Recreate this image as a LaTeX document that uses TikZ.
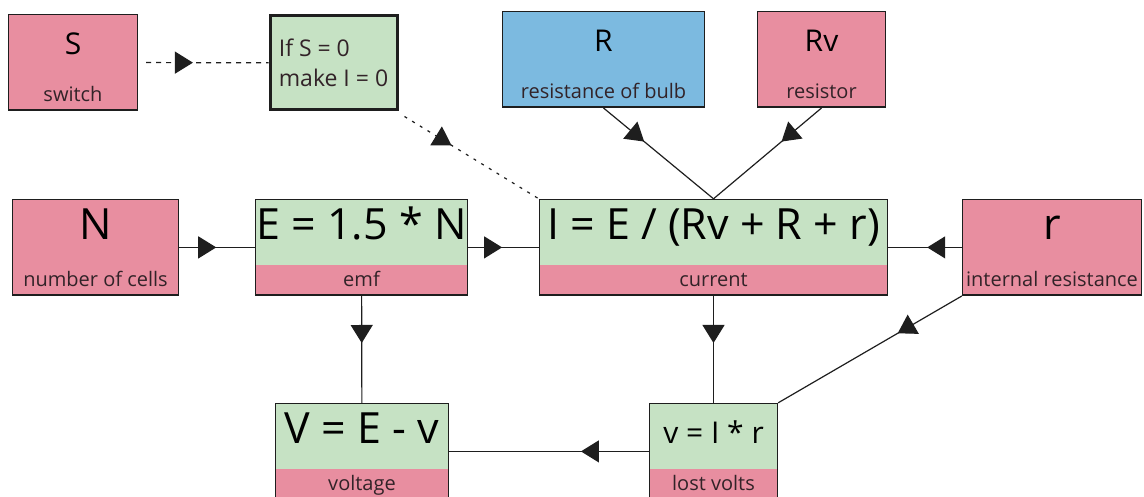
\documentclass[tikz,border=0pt]{standalone}
\usepackage{fontspec}
\setmainfont{Open Sans}
\usepackage{tikz}
\usetikzlibrary{
  arrows.meta,
  positioning,
  fit,
  decorations.markings,
}
\definecolor{inpink}{RGB}{232,142,160}
\definecolor{calcgreen}{RGB}{198,226,196}
\definecolor{bulbblue}{RGB}{124,186,224}
\definecolor{boxline}{RGB}{30,30,30}
\definecolor{labeltext}{RGB}{50,35,40}
\tikzset{
  boxframe/.style={draw=boxline, line width=0.8pt, inner sep=0pt},
  toppart/.style={minimum height=32.5pt, inner sep=0pt,
    text height=1.33ex, text depth=0pt},
  botpart/.style={minimum height=15pt, inner sep=0pt,
    font=\fontsize{10}{12}\selectfont, text=labeltext,
    text height=1.5ex, text depth=0.3ex},
  bigsym/.style={toppart, font=\fontsize{21.5}{25}\selectfont},
  smallsym/.style={toppart, font=\fontsize{15}{18}\selectfont},
  ifbox/.style={draw=boxline, line width=1.5pt, fill=calcgreen,
    align=left, minimum width=63.5pt, minimum height=47pt, inner sep=0pt,
    font=\fontsize{11.5}{15}\selectfont, text=labeltext},
  wire/.style={line width=0.6pt, draw=boxline},
  dashwire/.style={wire, dash pattern=on 2.5pt off 2.5pt},
  dotwire/.style={wire, dash pattern=on 1.5pt off 3pt},
  midarrow/.style={postaction={decorate}, decoration={markings,
    mark=at position #1 with {\arrow[solid]{Triangle[length=9pt, width=11pt]}}}},
}

\begin{document}
\begin{tikzpicture}[x=0.5pt, y=-0.5pt]
  \useasboundingbox (0,0) rectangle (1144,497);

  % ── Top row: switch and resistances ──
  \node[smallsym, fill=inpink, minimum width=64pt] (switch-top) at (73,47.5) {S};
  \node[botpart, fill=inpink, minimum width=64pt, below=-0.5pt of switch-top] (switch-cap) {switch};
  \node[boxframe, fit=(switch-top)(switch-cap)] (switch) {};

  \node[ifbox] (ifswitch) at (333.5,63) {If S = 0\\make I = 0};

  \node[smallsym, fill=bulbblue, minimum width=100.5pt] (bulb-top) at (603.5,44.5) {R};
  \node[botpart, fill=bulbblue, minimum width=100.5pt, below=-0.5pt of bulb-top] (bulb-cap) {resistance of bulb};
  \node[boxframe, fit=(bulb-top)(bulb-cap)] (bulb) {};

  \node[smallsym, fill=inpink, minimum width=63.5pt] (resistor-top) at (821.5,44.5) {Rv};
  \node[botpart, fill=inpink, minimum width=63.5pt, below=-0.5pt of resistor-top] (resistor-cap) {resistor};
  \node[boxframe, fit=(resistor-top)(resistor-cap)] (resistor) {};

  % ── Middle row ──
  \node[bigsym, fill=inpink, minimum width=82.5pt] (cells-top) at (95.5,232.5) {N};
  \node[botpart, fill=inpink, minimum width=82.5pt, below=-0.5pt of cells-top] (cells-cap) {number of cells};
  \node[boxframe, fit=(cells-top)(cells-cap)] (cells) {};

  \node[bigsym, fill=calcgreen, minimum width=105.5pt] (emf-top) at (361.5,232.5) {E = 1.5 * N};
  \node[botpart, fill=inpink, minimum width=105.5pt, below=-0.5pt of emf-top] (emf-cap) {emf};
  \node[boxframe, fit=(emf-top)(emf-cap)] (emf) {};

  \node[bigsym, fill=calcgreen, minimum width=173.5pt] (current-top) at (713.5,232.5) {I = E / (Rv + R + r)};
  \node[botpart, fill=inpink, minimum width=173.5pt, below=-0.5pt of current-top] (current-cap) {current};
  \node[boxframe, fit=(current-top)(current-cap)] (current) {};

  \node[bigsym, fill=inpink, minimum width=89pt] (intres-top) at (1052,232.5) {r};
  \node[botpart, fill=inpink, minimum width=89pt, below=-0.5pt of intres-top] (intres-cap) {internal resistance};
  \node[boxframe, fit=(intres-top)(intres-cap)] (intres) {};

  % ── Bottom row ──
  \node[bigsym, fill=calcgreen, minimum width=86pt] (voltage-top) at (362,436.5) {V = E - v};
  \node[botpart, fill=inpink, minimum width=86pt, below=-0.5pt of voltage-top] (voltage-cap) {voltage};
  \node[boxframe, fit=(voltage-top)(voltage-cap)] (voltage) {};

  \node[toppart, font=\fontsize{15}{18}\selectfont, fill=calcgreen, minimum width=63.5pt] (lost-top) at (713.5,436.5) {v = I * r};
  \node[botpart, fill=inpink, minimum width=63.5pt, below=-0.5pt of lost-top] (lost-cap) {lost volts};
  \node[boxframe, fit=(lost-top)(lost-cap)] (lost) {};

  % ── Connectors ──
  \draw[dashwire, midarrow=0.42, shorten <=4pt] (switch) -- (ifswitch);
  \draw[dotwire, midarrow=0.35] ([shift={(6,5)}]ifswitch.south east) -- (current.north west);
  \draw[wire, midarrow=0.37] (bulb.south) -- (current.north);
  \draw[wire, midarrow=0.37] (resistor.south) -- (current.north);
  \draw[wire, midarrow=0.49] (cells) -- (emf);
  \draw[wire, midarrow=0.48] (emf) -- (current);
  \draw[wire, midarrow=0.47] (intres) -- (current);
  \draw[wire, midarrow=0.44] (emf) -- (voltage);
  \draw[wire, midarrow=0.44] (current) -- (lost);
  \draw[wire, midarrow=0.34] (lost) -- (voltage);
  \draw[wire, midarrow=0.35] (intres.south west) -- (lost.north east);

\end{tikzpicture}
\end{document}
